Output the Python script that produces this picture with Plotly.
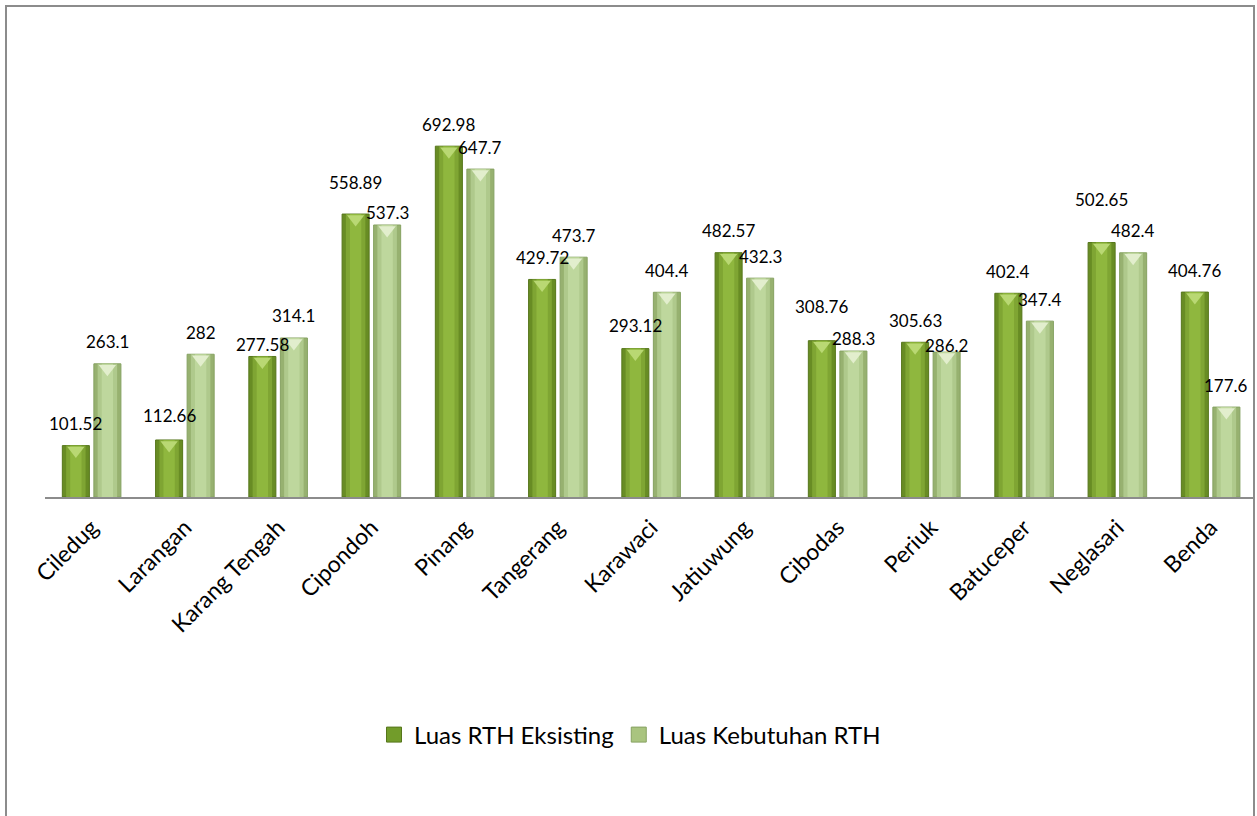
import plotly.graph_objects as go

# ---------------- data ----------------
CATEGORIES = ["Ciledug", "Larangan", "Karang Tengah", "Cipondoh", "Pinang", "Tangerang",
              "Karawaci", "Jatiuwung", "Cibodas", "Periuk", "Batuceper", "Neglasari", "Benda"]
RTH_EKSISTING = [101.52, 112.66, 277.58, 558.89, 692.98, 429.72, 293.12, 482.57,
                 308.76, 305.63, 402.4, 502.65, 404.76]
RTH_KEBUTUHAN = [263.1, 282, 314.1, 537.3, 647.7, 473.7, 404.4, 432.3,
                 288.3, 286.2, 347.4, 482.4, 177.6]
SERIES_NAMES = ["Luas RTH Eksisting", "Luas Kebutuhan RTH"]

# ---------------- style ----------------
FONT = "Lato"
BAR_W = 0.29          # bar width in category units
CENTER = 0.169        # distance of each bar centre from category centre
E_COLORS = ["#688c24", "#7fa533", "#8fb73e"]
K_COLORS = ["#97b170", "#afc98c", "#bed79d"]
E_TRI = "#b9d873"
K_TRI = "#e2eecd"
E_LEG = "#729c2a"
K_LEG = "#a9c47f"
LABEL_GAP = 22        # px between bar top and label centre
E_NUDGE = [0, 2, -10, 10, 0, 0, 1, 0, 12, 0, 0, 21, 0]
K_NUDGE = [0, 0, 0, -10, 0, 0, 0, 0, -9, -15, 0, 0, 0]
PX_PER_UNIT = 405 / 800

idx = list(range(len(CATEGORIES)))
fig = go.Figure()


def add_series(values, sign, colors, tri_color, leg_color, name):
    c = sign * CENTER
    widths = [1.0, 0.72, 0.42]
    for k, (wf, col) in enumerate(zip(widths, colors)):
        w = BAR_W * wf
        fig.add_trace(go.Bar(
            x=idx, y=values, width=w, offset=c - w / 2,
            marker=dict(color=col,
                        line=dict(color="#56761b" if sign < 0 else "#86a262", width=1) if k == 0 else dict(width=0)),
            name=name, showlegend=False, hoverinfo="skip" if k else None,
        ))
    # top bevel triangle
    fig.add_trace(go.Scatter(
        x=[i + c for i in idx], y=[v - 5 / PX_PER_UNIT for v in values],
        mode="markers",
        marker=dict(symbol="triangle-down", size=15, color=tri_color, line=dict(width=0)),
        showlegend=False, hoverinfo="skip",
    ))
    # legend entry (square swatch)
    fig.add_trace(go.Scatter(
        x=[None], y=[None], mode="markers", name=name,
        marker=dict(symbol="square", size=15, color=leg_color,
                    line=dict(color="#56761b" if sign < 0 else "#86a262", width=1)),
        showlegend=True,
    ))


add_series(RTH_EKSISTING, -1, E_COLORS, E_TRI, E_LEG, SERIES_NAMES[0])
add_series(RTH_KEBUTUHAN, 1, K_COLORS, K_TRI, K_LEG, SERIES_NAMES[1])

annotations = []
for i in idx:
    for vals, sign, nudge in ((RTH_EKSISTING, -1, E_NUDGE), (RTH_KEBUTUHAN, 1, K_NUDGE)):
        v = vals[i]
        annotations.append(dict(
            x=i + sign * CENTER, y=v, xref="x", yref="y",
            text=f"{v:g}", showarrow=False, yanchor="middle", xanchor="center",
            yshift=LABEL_GAP + nudge[i],
            font=dict(family=FONT, size=17, color="#000000"),
        ))

L, R, T, B = 45, 4, 92, 319
plot_w = 1257 - L - R
plot_h = 816 - T - B


def px_x(p):
    return (p - L) / plot_w


def px_y(p):
    return (816 - B - p) / plot_h


fig.update_layout(
    width=1257, height=816,
    margin=dict(l=L, r=R, t=T, b=B, pad=0),
    paper_bgcolor="white", plot_bgcolor="white",
    barmode="overlay",
    font=dict(family=FONT, color="#000000"),
    xaxis=dict(
        tickmode="array", tickvals=idx, ticktext=CATEGORIES,
        range=[-0.5, -0.5 + plot_w / 93.25],
        tickangle=-45, tickfont=dict(family=FONT, size=23, color="#000000"),
        showline=True, linecolor="#8c8c8c", linewidth=2,
        showgrid=False, zeroline=False, ticks="outside", ticklen=6, tickcolor="rgba(0,0,0,0)",
    ),
    yaxis=dict(range=[0, 800], visible=False, showgrid=False, zeroline=False),
    legend=dict(
        orientation="h", x=px_x(630), xanchor="center", y=px_y(735), yanchor="middle",
        font=dict(family=FONT, size=24, color="#000000"),
        bgcolor="rgba(0,0,0,0)", itemwidth=30, tracegroupgap=0,
    ),
    annotations=annotations,
    shapes=[dict(type="rect", xref="paper", yref="paper",
                 x0=px_x(6), x1=px_x(1254), y0=px_y(840), y1=px_y(6),
                 line=dict(color="#8c8c8c", width=2), fillcolor="rgba(0,0,0,0)", layer="above")],
)

fig.write_html("out.html")
